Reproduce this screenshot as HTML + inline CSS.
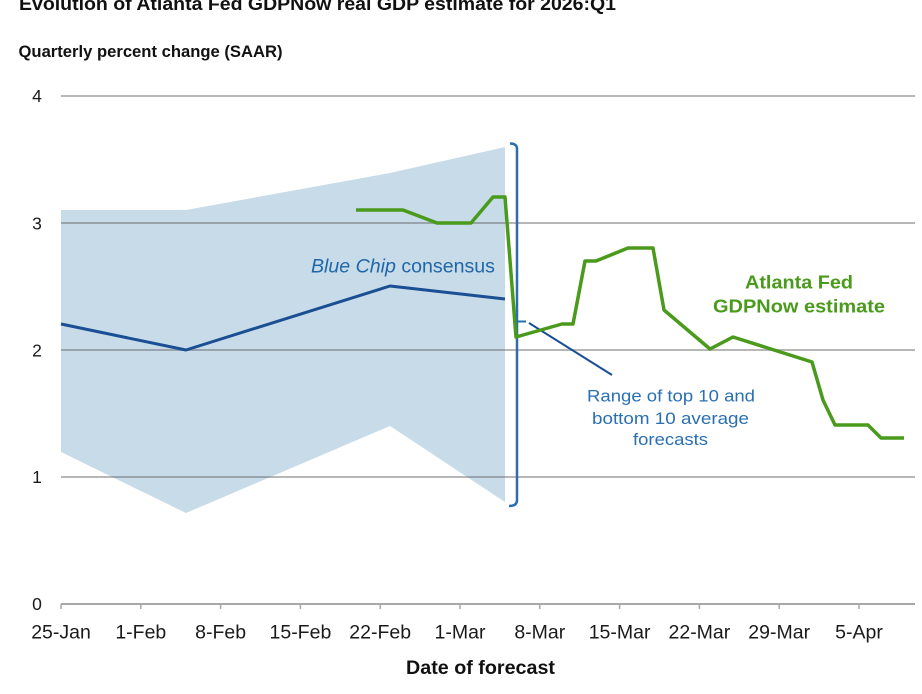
<!DOCTYPE html>
<html>
<head>
<meta charset="utf-8">
<style>
  html, body { margin: 0; padding: 0; background: #ffffff; }
  body { width: 922px; height: 694px; overflow: hidden; }
  svg { display: block; font-family: "Liberation Sans", "DejaVu Sans", sans-serif; }
</style>
</head>
<body>
<svg width="922" height="694" viewBox="0 0 922 694" xmlns="http://www.w3.org/2000/svg">
  <rect x="0" y="0" width="922" height="694" fill="#ffffff"/>

  <!-- Title (cut off at top) -->
  <text x="19" y="10" font-size="18.5" font-weight="bold" fill="#111111" textLength="597" lengthAdjust="spacingAndGlyphs">Evolution of Atlanta Fed GDPNow real GDP estimate for 2026:Q1</text>
  <!-- Subtitle -->
  <text x="18.5" y="57" font-size="16.5" font-weight="bold" fill="#111111" textLength="264" lengthAdjust="spacingAndGlyphs">Quarterly percent change (SAAR)</text>

  <!-- Blue Chip range band -->
  <polygon points="61,210 186,210 390,173 505,147 505,502 390,426 186,513 61,452" fill="#c7dbe9"/>

  <!-- Gridlines -->
  <g stroke="rgba(95,95,95,0.45)" stroke-width="2">
    <line x1="61" y1="96" x2="915" y2="96"/>
    <line x1="61" y1="223" x2="915" y2="223"/>
    <line x1="61" y1="350" x2="915" y2="350"/>
    <line x1="61" y1="477" x2="915" y2="477"/>
  </g>

  <!-- X axis -->
  <line x1="61" y1="604" x2="915" y2="604" stroke="#a8a8a8" stroke-width="2"/>
  <g stroke="#a8a8a8" stroke-width="1.5">
    <line x1="61" y1="604" x2="61" y2="609"/>
    <line x1="140.8" y1="604" x2="140.8" y2="609"/>
    <line x1="220.6" y1="604" x2="220.6" y2="609"/>
    <line x1="300.4" y1="604" x2="300.4" y2="609"/>
    <line x1="380.2" y1="604" x2="380.2" y2="609"/>
    <line x1="460" y1="604" x2="460" y2="609"/>
    <line x1="539.8" y1="604" x2="539.8" y2="609"/>
    <line x1="619.6" y1="604" x2="619.6" y2="609"/>
    <line x1="699.4" y1="604" x2="699.4" y2="609"/>
    <line x1="779.2" y1="604" x2="779.2" y2="609"/>
    <line x1="859" y1="604" x2="859" y2="609"/>
  </g>

  <!-- Y axis labels -->
  <g font-size="17.5" fill="#1a1a1a" text-anchor="middle">
    <text x="37" y="102">4</text>
    <text x="37" y="229.5">3</text>
    <text x="37" y="356.5">2</text>
    <text x="37" y="483">1</text>
    <text x="37" y="610">0</text>
  </g>

  <!-- X axis labels -->
  <g font-size="19.5" fill="#1a1a1a" text-anchor="middle">
    <text x="61" y="638.5">25-Jan</text>
    <text x="140.8" y="638.5">1-Feb</text>
    <text x="220.6" y="638.5">8-Feb</text>
    <text x="300.4" y="638.5">15-Feb</text>
    <text x="380.2" y="638.5">22-Feb</text>
    <text x="460" y="638.5">1-Mar</text>
    <text x="539.8" y="638.5">8-Mar</text>
    <text x="619.6" y="638.5">15-Mar</text>
    <text x="699.4" y="638.5">22-Mar</text>
    <text x="779.2" y="638.5">29-Mar</text>
    <text x="859" y="638.5">5-Apr</text>
  </g>
  <text x="480.5" y="674" font-size="19" font-weight="bold" fill="#111111" text-anchor="middle" textLength="149" lengthAdjust="spacingAndGlyphs">Date of forecast</text>

  <!-- Blue Chip consensus line -->
  <polyline points="61,324 186,350 390,286 505,299" fill="none" stroke="#1a4f94" stroke-width="3" stroke-linejoin="round"/>

  <!-- Bracket -->
  <path d="M510,143.5 Q517,143.5 517,149 L517,500 Q517,506 509,506" fill="none" stroke="#2a6db0" stroke-width="2.5"/>
  <line x1="517" y1="321.5" x2="526" y2="321.5" stroke="#2a6db0" stroke-width="2"/>
  <!-- Leader line -->
  <line x1="529" y1="323" x2="612" y2="375" stroke="#1a4f94" stroke-width="2"/>

  <!-- GDPNow line -->
  <polyline points="356,210 403,210 437,223 471,223 493,197 505,197 516,337 562,324 573,324 585,261 596,261 628,248 653,248 664,310 710,349 733,337 812,362 823,400 835,425 868,425 881,438 904,438" fill="none" stroke="#4a9a1c" stroke-width="3.5" stroke-linejoin="round"/>

  <!-- Annotations -->
  <text x="311" y="272.5" font-size="19" fill="#2067a8" textLength="184" lengthAdjust="spacingAndGlyphs"><tspan font-style="italic">Blue Chip</tspan> consensus</text>

  <g font-size="18.5" font-weight="bold" fill="#4a9a1c" text-anchor="middle">
    <text x="799" y="288.5" textLength="108" lengthAdjust="spacingAndGlyphs">Atlanta Fed</text>
    <text x="799" y="312.5" textLength="172" lengthAdjust="spacingAndGlyphs">GDPNow estimate</text>
  </g>

  <g font-size="17" fill="#2a6fb2" text-anchor="middle">
    <text x="671" y="401.5" textLength="168" lengthAdjust="spacingAndGlyphs">Range of top 10 and</text>
    <text x="670.5" y="424" textLength="157" lengthAdjust="spacingAndGlyphs">bottom 10 average</text>
    <text x="670.5" y="445" textLength="75" lengthAdjust="spacingAndGlyphs">forecasts</text>
  </g>
</svg>
</body>
</html>
